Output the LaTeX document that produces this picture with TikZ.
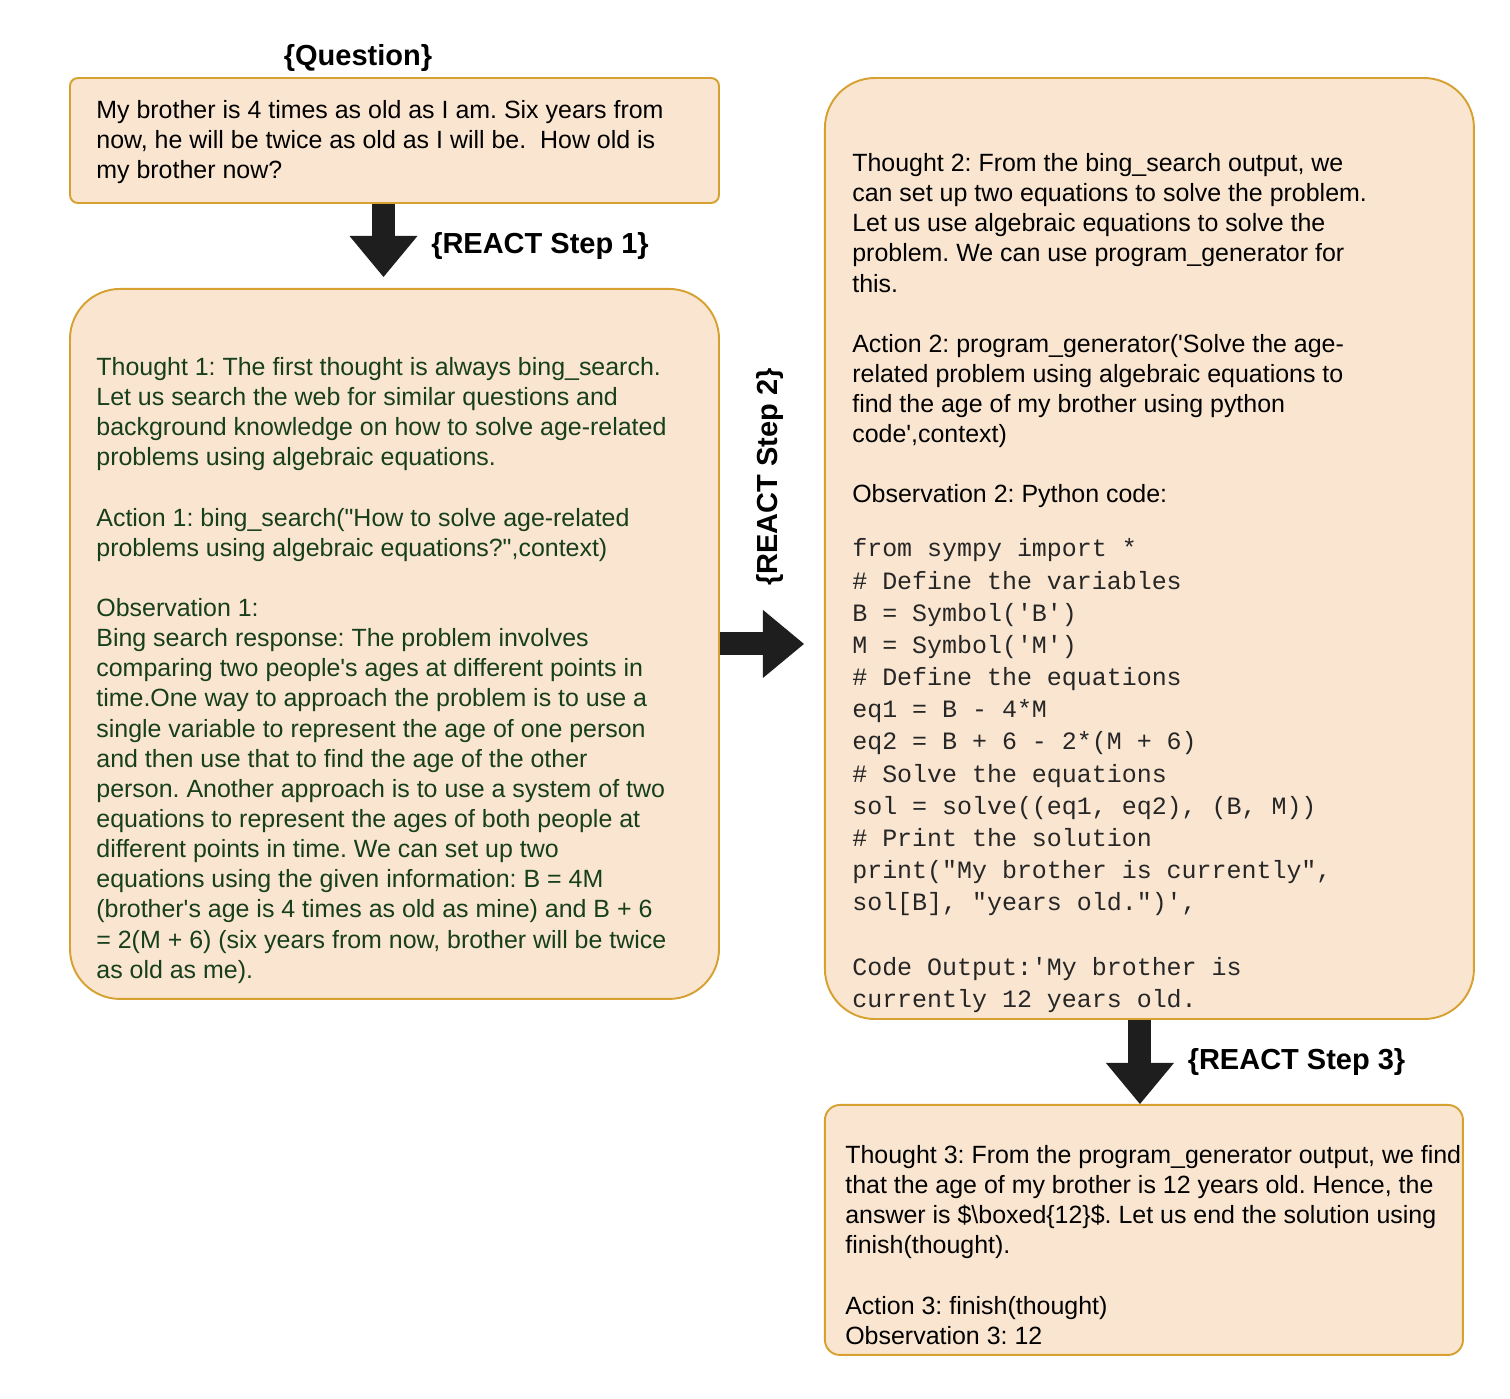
\documentclass[tikz,border=0pt]{standalone}
\usepackage{fontspec}
\setmainfont{Liberation Sans}[Ligatures=TeXOff]
\setmonofont{Liberation Mono}
\usepackage{xcolor}
\usepackage{tikz}
\usetikzlibrary{arrows.meta,positioning}

\definecolor{boxfill}{HTML}{FAE6D0}
\definecolor{boxline}{HTML}{D6A131}
\definecolor{thoughtgreen}{HTML}{173F1C}
\definecolor{arrowfill}{HTML}{1E1E1E}
\definecolor{codegray}{HTML}{262626}

\begin{document}
\frenchspacing
\begin{tikzpicture}[
    box/.style={rectangle,draw=boxline,fill=boxfill,line width=1.1pt,inner sep=0pt,minimum width=12.98cm},
    txt/.style={inner sep=0pt,anchor=north west,align=left,font=\fontsize{14.2pt}{17.15pt}\selectfont},
    code/.style={inner sep=0pt,anchor=north west,align=left,text=codegray,font=\ttfamily\fontsize{14.2pt}{18.3pt}\selectfont},
    lbl/.style={inner sep=0pt,font=\bfseries\fontsize{16.5pt}{19pt}\selectfont},
    blockarrow/.style={draw=arrowfill,line width=0.46cm,-{Triangle[width=1.36cm,length=0.82cm,line width=0pt]}}
]
    \useasboundingbox (0,0) rectangle (30.2,-27.96);

    % Nodes
    \node[box,minimum height=2.5cm,rounded corners=0.16cm] (qbox) at (7.89,-2.81) {};
    \node[box,minimum height=14.2cm,rounded corners=1cm,below=1.68cm of qbox] (obs1box) {};
    \node[box,minimum height=18.82cm,rounded corners=1cm,right=2.08cm of qbox.north east,anchor=north west] (step2box) {};
    \node[box,minimum width=12.76cm,minimum height=5cm,rounded corners=0.3cm,below=1.68cm of step2box.south west,anchor=north west] (step3box) {};

    \node[txt] (qtext) at ([shift={(0.54,-0.46)}]qbox.north west) {My brother is 4 times as old as I am. Six years from\\
now, he will be twice as old as I will be. \ How old is\\
my brother now?};

    \node[txt,text=thoughtgreen] (t1text) at ([shift={(0.54,-1.38)}]obs1box.north west) {Thought 1: The first thought is always bing\_search.\\
Let us search the web for similar questions and\\
background knowledge on how to solve age-related\\
problems using algebraic equations.\\[17.15pt]
Action 1: bing\_search("How to solve age-related\\
problems using algebraic equations?",context)\\[17.15pt]
Observation 1:\\
Bing search response: The problem involves\\
comparing two people's ages at different points in\\
time.One way to approach the problem is to use a\\
single variable to represent the age of one person\\
and then use that to find the age of the other\\
person. Another approach is to use a system of two\\
equations to represent the ages of both people at\\
different points in time. We can set up two\\
equations using the given information: B = 4M\\
(brother's age is 4 times as old as mine) and B + 6\\
= 2(M + 6) (six years from now, brother will be twice\\
as old as me).};

    \node[txt] (t2text) at ([shift={(0.56,-1.52)}]step2box.north west) {Thought 2: From the bing\_search output, we\\
can set up two equations to solve the problem.\\
Let us use algebraic equations to solve the\\
problem. We can use program\_generator for\\
this.\\[17.15pt]
Action 2: program\_generator('Solve the age-\\
related problem using algebraic equations to\\
find the age of my brother using python\\
code',context)\\[17.15pt]
Observation 2: Python code:};

    \node[code,below=0.6cm of t2text.south west,anchor=north west] (obs2code) {from sympy import *\\
\# Define the variables\\
B = Symbol('B')\\
M = Symbol('M')\\
\# Define the equations\\
eq1 = B - 4*M\\
eq2 = B + 6 - 2*(M + 6)\\
\# Solve the equations\\
sol = solve((eq1, eq2), (B, M))\\
\# Print the solution\\
print("My brother is currently",\\
sol[B], "years old.")',\\[18.3pt]
Code Output:'My brother is\\
currently 12 years old.};

    \node[txt] (t3text) at ([shift={(0.42,-0.82)}]step3box.north west) {Thought 3: From the program\_generator output, we find\\
that the age of my brother is 12 years old. Hence, the\\
answer is \$\textbackslash boxed\{12\}\$. Let us end the solution using\\
finish(thought).\\[17.15pt]
Action 3: finish(thought)\\
Observation 3: 12};

    % Arrows
    \draw[blockarrow,shorten >=0.22cm] ([xshift=-0.22cm]qbox.south) -- ([xshift=-0.22cm]obs1box.north);
    \draw[blockarrow,shorten >=0.4cm] (obs1box.east) -- (obs1box.east -| step2box.west);
    \draw[blockarrow] ([xshift=-0.19cm]step2box.south) -- ([xshift=-0.19cm]step2box.south |- step3box.north);

    % Labels
    \node[lbl] (qlabel) at (7.16,-1.16) {\{Question\}};
    \node[lbl] (step1label) at (10.8,-4.92) {\{REACT Step 1\}};
    \node[lbl,rotate=90] (step2label) at (15.4,-9.54) {\{REACT Step 2\}};
    \node[lbl] (step3label) at (25.93,-21.24) {\{REACT Step 3\}};
\end{tikzpicture}
\end{document}
